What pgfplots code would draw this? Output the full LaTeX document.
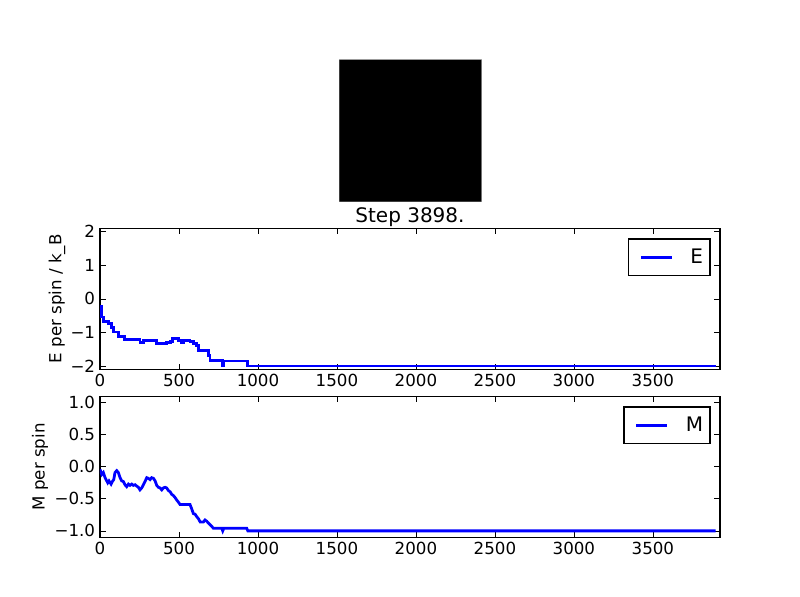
\documentclass[border=0pt]{standalone}
\usepackage{fontspec}
\setmainfont{DejaVu Sans}
\usepackage{pgfplots}
\pgfplotsset{compat=1.18}
\newcommand{\mplfont}{\fontsize{12pt}{14pt}\selectfont}
\newcommand{\mpllarge}{\fontsize{14.4pt}{17pt}\selectfont}
\pgfplotsset{
  mplstyle/.style={
    scale only axis,
    width=446.4pt, height=101.5pt,
    xmin=0, xmax=3925,
    xtick={0,500,1000,1500,2000,2500,3000,3500},
    scaled x ticks=false,
    /pgf/number format/1000 sep={},
    /pgf/number format/assume math mode=true,
    tick label style={font=\mplfont},
    label style={font=\mplfont},
    axis line style={line width=1pt},
    major tick length=4pt,
    tick style={line width=0.5pt, black},
    tick align=inside,
    legend style={at={(1,1)}, anchor=north east, xshift=-6.7pt, yshift=-7.2pt,
      draw=black, line width=1pt, fill=white, inner xsep=5pt, inner ysep=7.1pt,
      nodes={inner sep=0pt}, font=\mpllarge},
    legend image code/.code={\path[draw=none,fill=none] (0pt,-1pt) rectangle (39.6pt,1pt); \draw[##1] (3.9pt,0pt) -- (26.1pt,0pt);},
  }
}
\begin{document}
\begin{tikzpicture}
\path[fill=white, use as bounding box] (0pt,0pt) rectangle (576pt,429.84pt);

% image panel (all spins down)
\begin{axis}[
  at={(244.4pt,284.6pt)}, anchor=south west,
  scale only axis, width=102.2pt, height=102.2pt,
  xmin=0, xmax=1, ymin=0, ymax=1,
  xtick=\empty, ytick=\empty,
  axis line style={line width=0.5pt, gray!60},
]
\addplot[fill=black, draw=none] coordinates {(0,0) (1,0) (1,1) (0,1) (0,0)};
\end{axis}

% energy
\begin{axis}[
  mplstyle,
  at={(72pt,163.9pt)}, anchor=south west,
  ymin=-2.1, ymax=2.1,
  ytick={-2,-1,0,1,2},
  yticklabels={−2,−1,0,1,2},
  ylabel={E per spin / k\_B},
  ylabel style={at={(axis description cs:-0.0694,0.5)}, anchor=center},
  title={Step 3898.},
  every axis title/.style={at={(0.5,1)}, anchor=base, yshift=4pt, font=\mpllarge},
]
\addplot[const plot, blue, line width=2pt] coordinates {
(0,-0.23) (10,-0.54) (21,-0.67) (53,-0.74) (74,-0.86) (84,-0.99)
(116,-1.12) (154,-1.22) (253,-1.29) (275,-1.24) (359,-1.34) (422,-1.29)
(444,-1.27) (458,-1.19) (496,-1.24) (513,-1.29) (528,-1.24) (570,-1.26)
(591,-1.32) (613,-1.38) (623,-1.53) (687,-1.68) (697,-1.84) (777,-1.98)
(784,-1.85) (936,-2.0) (3898,-2.0)
};
\addlegendentry{E}
\end{axis}

% magnetisation
\begin{axis}[
  mplstyle,
  at={(72pt,43.0pt)}, anchor=south west,
  ymin=-1.1, ymax=1.1,
  ytick={-1,-0.5,0,0.5,1},
  yticklabels={−1.0,−0.5,0.0,0.5,1.0},
  ylabel={M per spin},
  ylabel style={at={(axis description cs:-0.0968,0.5)}, anchor=center},
]
\addplot[blue, line width=2pt] coordinates {
(0,-0.04) (11,-0.12) (21,-0.09) (32,-0.17) (49,-0.25) (57,-0.22) (70,-0.27)
(78,-0.23) (87,-0.20) (95,-0.09) (106,-0.06) (116,-0.09) (127,-0.17)
(137,-0.22) (148,-0.23) (158,-0.28) (169,-0.31) (180,-0.27) (190,-0.29)
(201,-0.27) (211,-0.29) (222,-0.28) (232,-0.30) (243,-0.32) (253,-0.36)
(264,-0.33) (275,-0.28) (285,-0.23) (296,-0.17) (306,-0.18) (317,-0.20)
(327,-0.17) (338,-0.18) (349,-0.22) (359,-0.29) (370,-0.32) (380,-0.33)
(391,-0.36) (401,-0.33) (412,-0.32) (422,-0.33) (433,-0.37) (444,-0.39)
(454,-0.43) (465,-0.45) (475,-0.48) (486,-0.52) (496,-0.55) (507,-0.59)
(528,-0.59) (570,-0.59) (581,-0.66) (591,-0.73) (602,-0.74) (613,-0.78)
(623,-0.81) (634,-0.86) (655,-0.86) (665,-0.83) (676,-0.85) (687,-0.88)
(704,-0.92) (718,-0.96) (771,-0.96) (777,-1.0) (784,-0.96) (929,-0.96)
(936,-1.0) (3898,-1.0)
};
\addlegendentry{M}
\end{axis}
\end{tikzpicture}
\end{document}
